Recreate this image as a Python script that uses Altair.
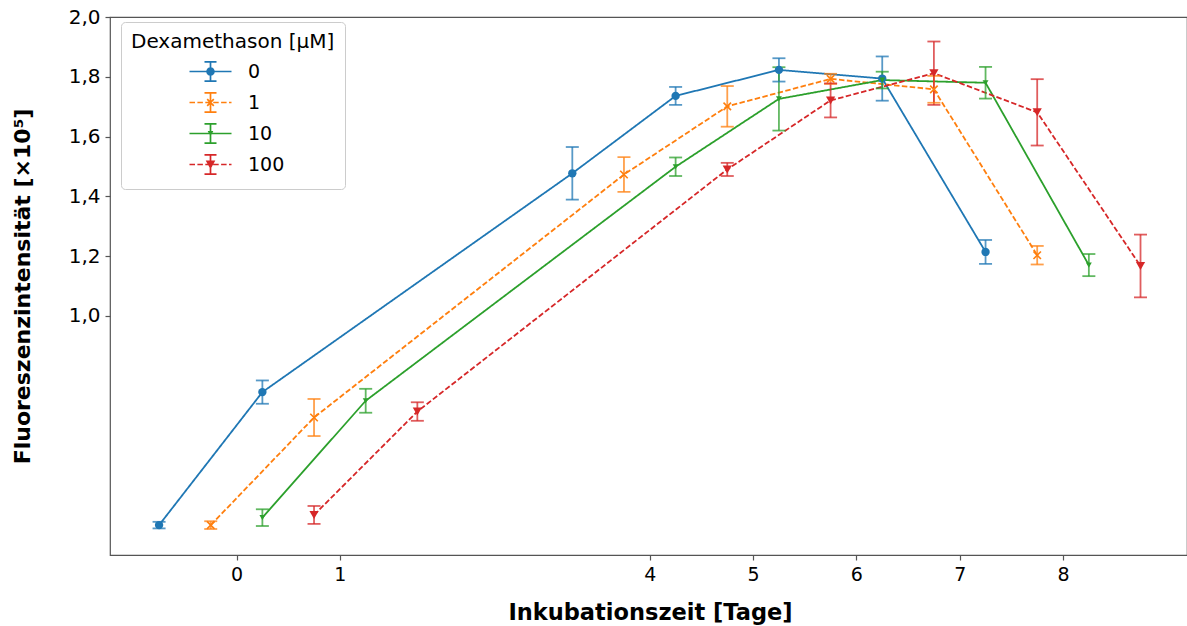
import altair as alt
import pandas as pd
import math

# ---------------- data ----------------
series = ["0", "1", "10", "100"]
colors = ["#1f77b4", "#ff7f0e", "#2ca02c", "#d62728"]
x_ticks = [0, 1, 4, 5, 6, 7, 8]
y_ticks = [1.0, 1.2, 1.4, 1.6, 1.8, 2.0]

x_0 = [-0.75, 0.25, 3.25, 4.25, 5.25, 6.25, 7.25]
y_0 = [0.300, 0.745, 1.477, 1.736, 1.823, 1.794, 1.214]
e_0 = [0.011, 0.039, 0.088, 0.030, 0.039, 0.074, 0.040]

x_1 = [-0.25, 0.75, 3.75, 4.75, 5.75, 6.75, 7.75]
y_1 = [0.300, 0.660, 1.473, 1.701, 1.793, 1.758, 1.203]
e_1 = [0.013, 0.062, 0.058, 0.068, 0.017, 0.045, 0.031]

x_10 = [0.25, 1.25, 4.25, 5.25, 6.25, 7.25, 8.25]
y_10 = [0.325, 0.716, 1.499, 1.726, 1.789, 1.780, 1.170]
e_10 = [0.028, 0.040, 0.031, 0.106, 0.028, 0.053, 0.037]

x_100 = [0.75, 1.75, 4.75, 5.75, 6.75, 7.75, 8.75]
y_100 = [0.334, 0.680, 1.490, 1.721, 1.812, 1.681, 1.167]
e_100 = [0.030, 0.031, 0.022, 0.057, 0.106, 0.111, 0.105]

all_x = [x_0, x_1, x_10, x_100]
all_y = [y_0, y_1, y_10, y_100]
all_e = [e_0, e_1, e_10, e_100]

rows = []
for name, xs, ys, es in zip(series, all_x, all_y, all_e):
    for i, (xv, yv, ev) in enumerate(zip(xs, ys, es)):
        rows.append({"Dexamethason": name, "Tag": xv, "Wert": yv,
                     "lo": yv - ev, "hi": yv + ev, "ord": i})
df = pd.DataFrame(rows)

# ---------------- styles ----------------
FONT = "DejaVu Sans"
x_scale = alt.Scale(domain=[-1.225, 9.2], nice=False, zero=False)
y_scale = alt.Scale(domain=[0.2, 2.0], nice=False, zero=False)
# data-derived domain (sorted "0","1","10","100") for the drawing layers
color_scale = alt.Scale(range=colors)
dash_scale = alt.Scale(range=[[1, 0], [5.5, 2.4], [1, 0], [5.5, 2.4]])

x_axis = alt.Axis(values=x_ticks, title="Inkubationszeit [Tage]", labelFont=FONT,
                  labelFontSize=19, titleFont=FONT, titleFontSize=22.5, titleFontWeight="bold",
                  titleX=540, titleY=57, titleBaseline="middle", labelPadding=5)
y_axis = alt.Axis(values=y_ticks, title="Fluoreszenzintensität [×10⁵]",
                  labelExpr="replace(format(datum.value, '.1f'), '.', ',')",
                  labelFont=FONT, labelFontSize=20, titleFont=FONT, titleFontSize=22,
                  titleFontWeight="bold", titleX=-88, titleY=269, titleAngle=-90,
                  titleAlign="center", titleBaseline="middle", labelPadding=5)


def X(field="Tag"):
    return alt.X(f"{field}:Q", scale=x_scale, axis=x_axis)


def Y(field):
    return alt.Y(f"{field}:Q", scale=y_scale, axis=y_axis)


col = alt.Color("Dexamethason:N", scale=color_scale, legend=None)

base = alt.Chart(df)

lines = base.mark_line(strokeWidth=1.8).encode(
    x=X(), y=Y("Wert"), color=col,
    strokeDash=alt.StrokeDash("Dexamethason:N", scale=dash_scale, legend=None),
    order="ord:Q",
)

stems = base.mark_rule(strokeWidth=1.8, opacity=0.75).encode(
    x=X(), y=Y("lo"), y2="hi:Q", color=col)
caps_lo = base.mark_tick(orient="horizontal", size=13, thickness=1.8, opacity=0.75).encode(
    x=X(), y=Y("lo"), color=col)
caps_hi = base.mark_tick(orient="horizontal", size=13, thickness=1.8, opacity=0.75).encode(
    x=X(), y=Y("hi"), color=col)

marker_defs = [
    dict(shape="circle", size=70, filled=True),
    dict(shape="M-1,-1L1,1M1,-1L-1,1", size=56, filled=False, strokeWidth=1.6),
    dict(shape="triangle-down", size=35, filled=True),
    dict(shape="triangle-down", size=85, filled=True),
]
points = []
for name, md in zip(series, marker_defs):
    points.append(
        base.transform_filter(alt.datum.Dexamethason == name)
        .mark_point(opacity=1, **md)
        .encode(x=X(), y=Y("Wert"), color=col)
    )

# legend symbols: line + error bar + marker, drawn as filled outlines in one path
SYM = 625                 # legend symbol size
U = math.sqrt(SYM) / 2    # px per path unit
SHIFT_PX = 66.0           # horizontal shift to center entries under the title
T_PX = 0.85               # half line thickness in px
EB = 9.7                  # half height of the legend error bar in px


def fmt(v):
    return f"{v:.3f}".rstrip("0").rstrip(".") or "0"


def seg(x1, y1, x2, y2, t=T_PX):
    dx, dy = x2 - x1, y2 - y1
    L = math.hypot(dx, dy)
    nx, ny = -dy / L * t, dx / L * t
    pts = [(x1 + nx, y1 + ny), (x2 + nx, y2 + ny), (x2 - nx, y2 - ny), (x1 - nx, y1 - ny)]
    area = sum(pts[i][0] * pts[(i + 1) % 4][1] - pts[(i + 1) % 4][0] * pts[i][1] for i in range(4))
    if area < 0:
        pts = pts[::-1]
    return "M" + "L".join(f"{fmt((px + SHIFT_PX) / U)},{fmt(py / U)}" for px, py in pts) + "Z"


def poly(pts):
    return "M" + "L".join(f"{fmt((px + SHIFT_PX) / U)},{fmt(py / U)}" for px, py in pts) + "Z"


def legend_path(marker, dashed):
    parts = []
    half = 21.0
    if dashed:
        x = -half
        while x < half:
            x2 = min(x + 5.5, half)
            parts.append(seg(x, 0, x2, 0))
            x = x2 + 2.4
    else:
        parts.append(seg(-half, 0, half, 0))
    parts.append(seg(0, -EB, 0, EB))
    parts.append(seg(-6, -EB, 6, -EB))
    parts.append(seg(-6, EB, 6, EB))
    if marker == "circle":
        r = 4.3 / U
        c = SHIFT_PX / U
        parts.append(f"M{fmt(c)},{fmt(-r)}A{fmt(r)},{fmt(r)} 0 1,1 {fmt(c)},{fmt(r)}"
                     f"A{fmt(r)},{fmt(r)} 0 1,1 {fmt(c)},{fmt(-r)}Z")
    elif marker == "x":
        r = 3.3
        parts.append(seg(-r, -r, r, r))
        parts.append(seg(-r, r, r, -r))
    elif marker == "small":
        parts.append(poly([(-2.8, -2.4), (2.8, -2.4), (0, 3.0)]))
    else:
        parts.append(poly([(-4.8, -4.0), (4.8, -4.0), (0, 4.8)]))
    return "".join(parts)


legend_paths = [legend_path("circle", False), legend_path("x", True),
                legend_path("small", False), legend_path("tri", True)]

leg = alt.Legend(
    title="Dexamethason [µM]", orient="none", legendX=11, legendY=5,
    titleFont=FONT, titleFontSize=20, titleFontWeight="normal", titleColor="black",
    titleLimit=400, labelLimit=200,
    labelFont=FONT, labelFontSize=19, labelColor="black",
    symbolSize=SYM, labelOffset=90,
    padding=10, rowPadding=2, titlePadding=6,
    strokeColor="#cccccc", fillColor="#ffffff", cornerRadius=4,
)

legend_layer = base.transform_filter("false").mark_point(filled=True, opacity=1).encode(
    x=X(), y=Y("Wert"),
    fill=alt.Fill("Dexamethason:N", scale=alt.Scale(domain=series, range=colors), legend=leg),
    shape=alt.Shape("Dexamethason:N", scale=alt.Scale(domain=series, range=legend_paths), legend=leg),
)

chart = alt.layer(lines, stems, caps_lo, caps_hi, *points, legend_layer).properties(
    width=1077, height=538,
    autosize=alt.AutoSizeParams(type="none"),
    padding={"left": 110, "top": 17, "right": 0, "bottom": 71},
    background="white",
).configure_view(stroke="#555555", strokeWidth=1.2).configure_axis(
    domain=False, grid=False, tickColor="#555555", tickSize=5, tickWidth=1.2,
    labelColor="black", titleColor="black",
)

chart.save("out.html", embed_options={"renderer": "svg", "actions": False})
